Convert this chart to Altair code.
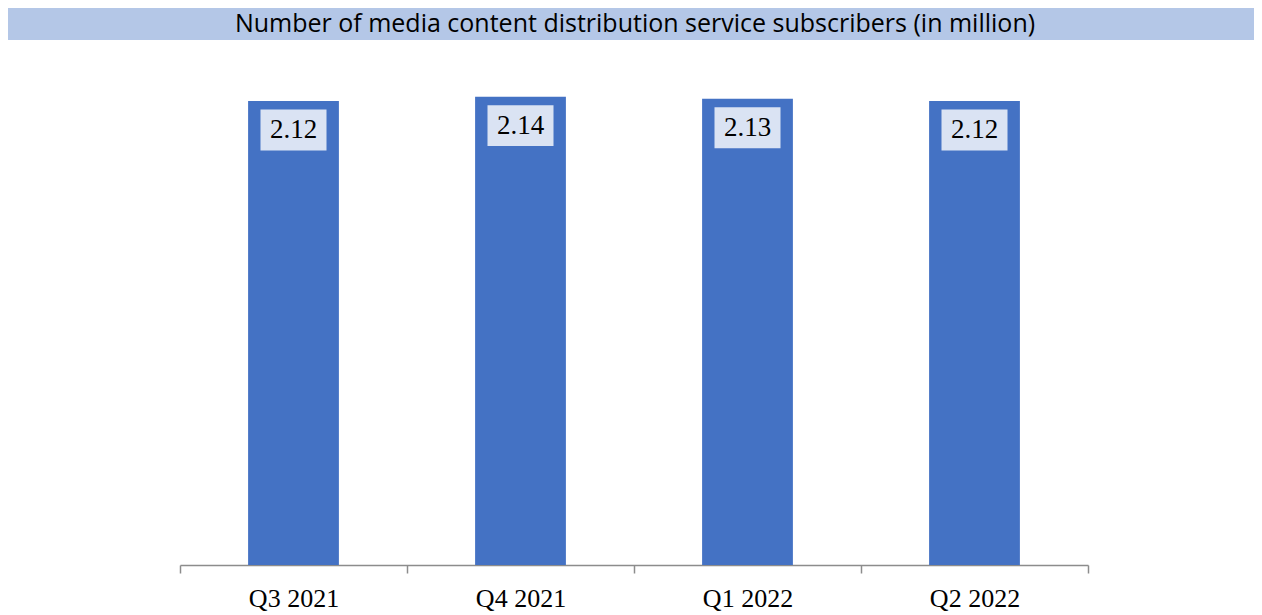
import altair as alt
import pandas as pd

quarters = ["Q3 2021", "Q4 2021", "Q1 2022", "Q2 2022"]
subscribers = [2.12, 2.14, 2.13, 2.12]
title_text = "Number of media content distribution service subscribers (in million)"

df = pd.DataFrame({"quarter": quarters, "value": subscribers})
df["label"] = df["value"].map(lambda v: f"{v:.2f}")

PAD_TOP, PAD_BOTTOM, PAD_LEFT, PAD_RIGHT = 34, 46, 172, 166
W, H = 908, 523
x = alt.X("quarter:N", sort=quarters, title=None,
          scale=alt.Scale(paddingInner=0, paddingOuter=0),
          axis=alt.Axis(labelAngle=0, labelFont="Liberation Serif", labelFontSize=26,
                        labelColor="#000000", labelPadding=12, tickSize=8,
                        tickColor="#8c8c8c", domainColor="#8c8c8c", tickWidth=1.5,
                        domainWidth=1.5, tickBand="extent"))
y = alt.Y("value:Q", scale=alt.Scale(domain=[0, 2.3896], nice=False, zero=True), axis=None)

base = alt.Chart(df)

band = base.mark_rect(color="#B4C7E7").encode(
    x=alt.value(-PAD_LEFT), x2=alt.value(W + PAD_RIGHT), y=alt.value(-PAD_TOP), y2=alt.value(-2)
).transform_filter(alt.datum.quarter == quarters[0])

title = base.mark_text(font="Open Sans", fontSize=25, color="#000000", baseline="middle",
                       align="center").encode(
    x=alt.value(W / 2 + 1), y=alt.value(-18), text=alt.value(title_text)
).transform_filter(alt.datum.quarter == quarters[0])

bars = base.mark_bar(color="#4472C4", width={"band": 0.4}).encode(x=x, y=y)

boxes = base.mark_point(shape="M-1,-0.62H1V0.62H-1Z", size=66 * 66, filled=True,
                        color="#DAE3F3", opacity=1, strokeWidth=0, yOffset=29).encode(x=x, y=y)

labels = base.mark_text(font="Liberation Serif", fontSize=27, color="#000000",
                        baseline="middle", yOffset=29).encode(x=x, y=y, text="label:N")

chart = alt.layer(band, title, bars, boxes, labels).properties(
    width=W, height=H, autosize="none",
    padding={"left": PAD_LEFT, "top": PAD_TOP, "right": PAD_RIGHT, "bottom": PAD_BOTTOM}
).configure_view(stroke=None)

chart.save("out.html", embed_options={"renderer": "svg", "actions": False})
